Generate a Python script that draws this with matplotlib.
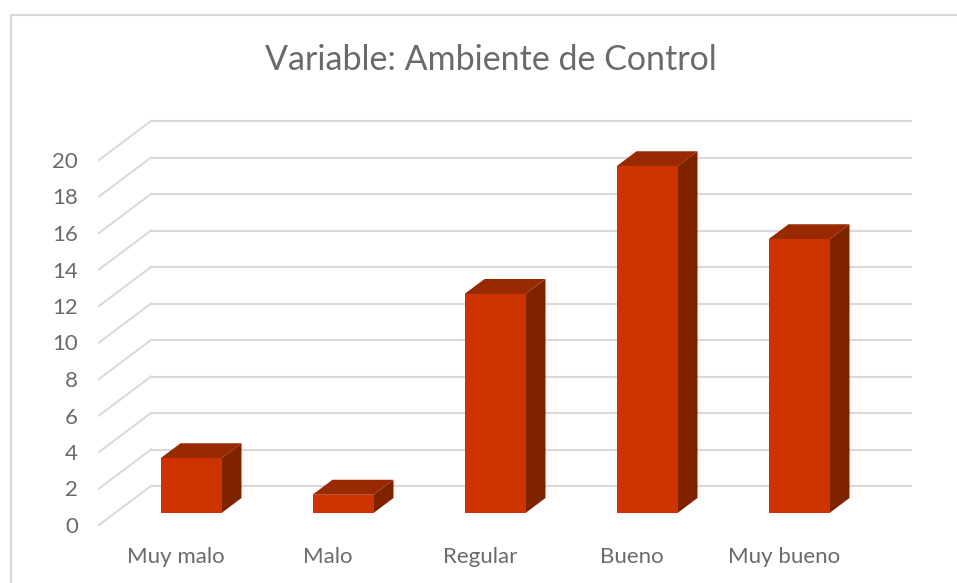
import matplotlib
matplotlib.use("Agg")
import matplotlib.pyplot as plt
from matplotlib.lines import Line2D
from matplotlib.patches import Polygon
from matplotlib.transforms import Affine2D

categories = ["Muy malo", "Malo", "Regular", "Bueno", "Muy bueno"]
values = [3, 1, 12, 19, 15]
y_ticks = [0, 2, 4, 6, 8, 10, 12, 14, 16, 18, 20]
title = "Variable: Ambiente de Control"

W, H = 957, 583
FRONT, SIDE, TOP = "#CC3300", "#7F2200", "#992900"
GRID, TEXT = "#D9D9D9", "#6A6A6A"
plt.rcParams["font.family"] = ["Lato", "DejaVu Sans"]

fig = plt.figure(figsize=(W / 100, H / 100), dpi=100, facecolor="white")
# The axes rectangle is the back wall of the 3-D plot
L, R, B, T = 151, 912, 486, 121
ax = fig.add_axes([L / W, 1 - B / H, (R - L) / W, (B - T) / H])
step = 152.0
ax.set_xlim((L - 191) / step, (R - 191) / step)
ax.set_ylim(0, 20)
ax.axis("off")
ax.patch.set_visible(False)

def shifted(dx, dy):
    return ax.transData + Affine2D().translate(dx, dy)

# Gridlines: back wall plus slanted floor-side stroke
ax.hlines(y_ticks, *ax.get_xlim(), color=GRID, lw=1.5, zorder=1, clip_on=False)
for v in y_ticks:
    ax.plot([ax.get_xlim()[0] - 52 / step, ax.get_xlim()[0]], [v - 39 / 18.25, v],
            color=GRID, lw=1.5, zorder=1, clip_on=False)
    ax.text(ax.get_xlim()[0], v, str(v), transform=shifted(-73, -41), ha="right",
            va="center", fontsize=16, color=TEXT, clip_on=False)

# 3-D bars
bar_w = 61 / step
dep_x, dep_y = 20 / step, 15 / 18.25
front_tr = shifted(0, -27)
for i, v in enumerate(values):
    x0, x1 = i - bar_w / 2, i + bar_w / 2
    ax.add_patch(Polygon([(x1, 0), (x1 + dep_x, dep_y), (x1 + dep_x, v + dep_y), (x1, v)],
                         fc=SIDE, ec="none", transform=front_tr, zorder=3, clip_on=False))
    ax.add_patch(Polygon([(x0, v), (x1, v), (x1 + dep_x, v + dep_y), (x0 + dep_x, v + dep_y)],
                         fc=TOP, ec="none", transform=front_tr, zorder=3, clip_on=False))
ax.bar(range(len(values)), values, width=bar_w, color=FRONT, transform=front_tr, zorder=4, clip_on=False)

# Category labels
for i, c in enumerate(categories):
    ax.text(i, 0, c, transform=shifted(-15, -77), ha="center", va="baseline",
            fontsize=16, color=TEXT, clip_on=False)

fig.text(491 / W, 1 - 70 / H, title, ha="center", va="baseline", fontsize=24.5, color=TEXT)

# Chart frame (top and left only in this crop)
fig.add_artist(Line2D([10.5 / W, 10.5 / W, 1], [0, 1 - 14.5 / H, 1 - 14.5 / H], color=GRID, lw=1.5))

fig.savefig("out.png", dpi=100, facecolor="white")
